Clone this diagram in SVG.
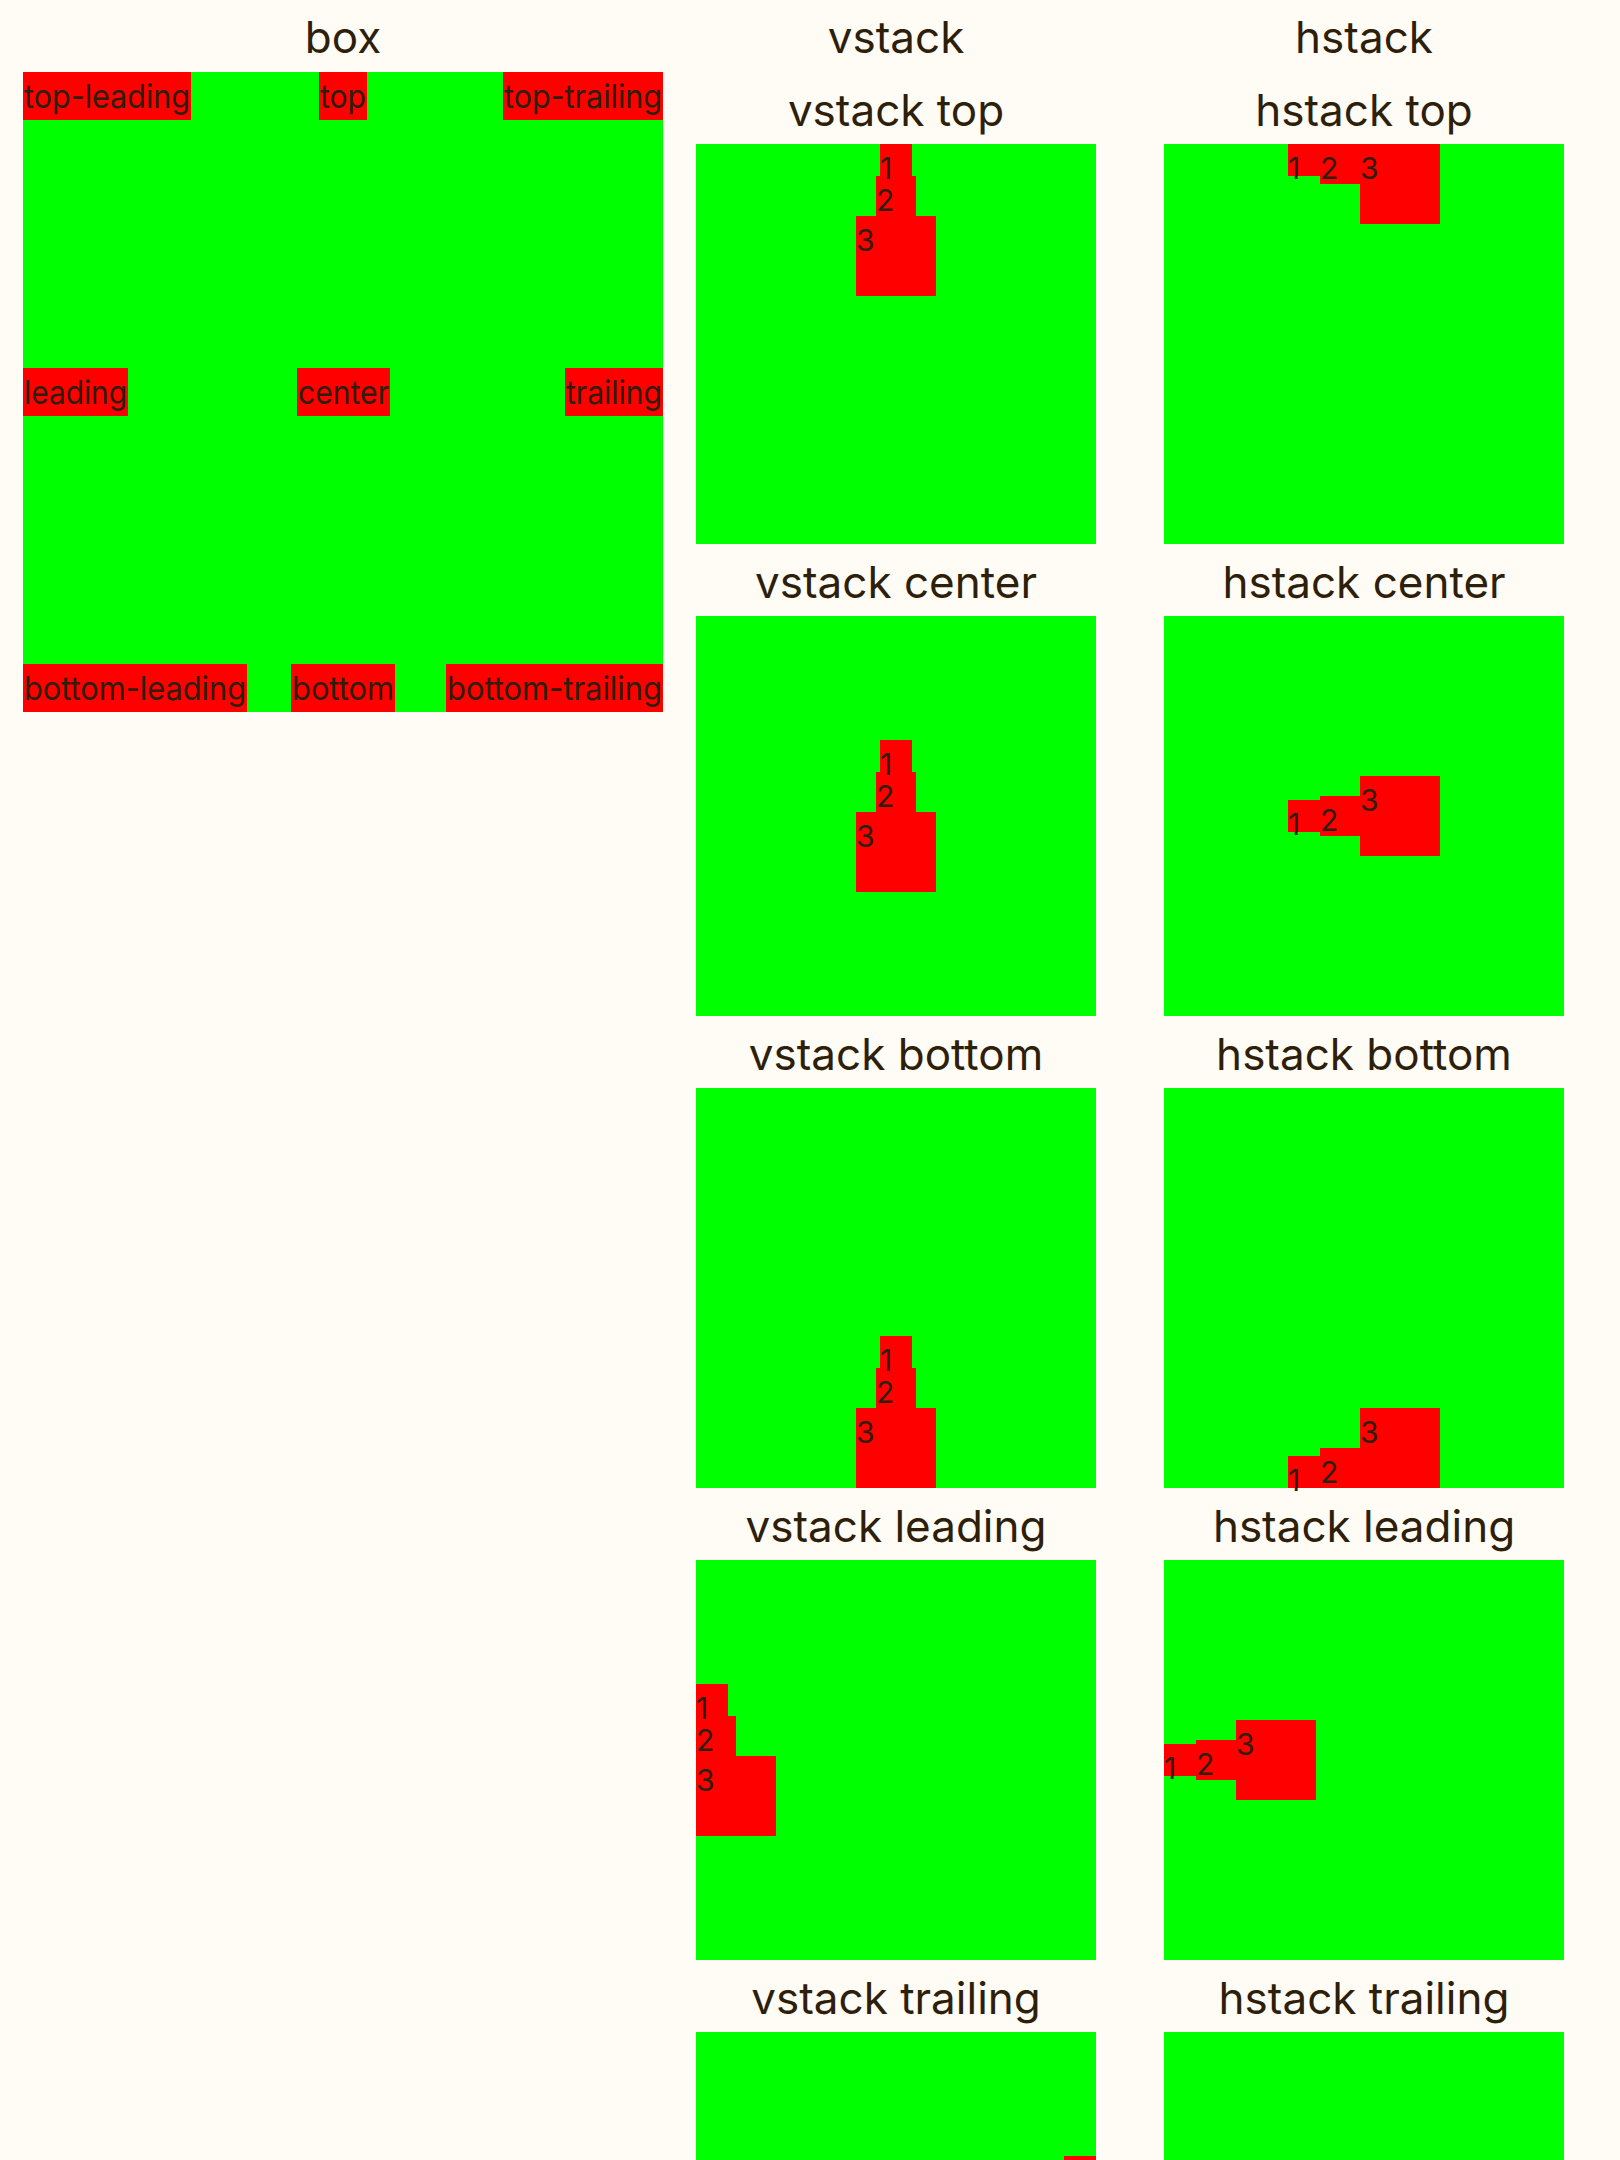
<svg xmlns="http://www.w3.org/2000/svg" width="1620" height="2160" viewBox="0 0 1620 2160">
<style>
.bg{fill:#fffcf5}
.g{fill:#00ff00}
.r{fill:#ff0000}
.t{font-family:Inter,"Noto Sans","Liberation Sans",sans-serif;fill:#2e1f0a}
.h{font-size:44px;text-anchor:middle}
.l{font-size:33px}
.d{font-size:30px}
.m{text-anchor:middle}
.e{text-anchor:end}
</style>
<rect class="bg" x="0" y="0" width="1620" height="2160"/>
<g id="titles">
<text class="t h" x="343" y="53">box</text>
<text class="t h" x="896" y="53">vstack</text>
<text class="t h" x="1364" y="53">hstack</text>
</g>
<g id="box">
<rect class="g" x="23" y="72" width="640" height="640"/>
<rect class="r" x="23" y="72" width="168" height="48"/>
<text class="t l" x="24" y="108" textLength="166" lengthAdjust="spacingAndGlyphs">top-leading</text>
<rect class="r" x="319" y="72" width="48" height="48"/>
<text class="t l m" x="343" y="108" textLength="46" lengthAdjust="spacingAndGlyphs">top</text>
<rect class="r" x="503" y="72" width="160" height="48"/>
<text class="t l e" x="662" y="108" textLength="158" lengthAdjust="spacingAndGlyphs">top-trailing</text>
<rect class="r" x="23" y="368" width="105" height="48"/>
<text class="t l" x="24" y="404" textLength="103" lengthAdjust="spacingAndGlyphs">leading</text>
<rect class="r" x="297" y="368" width="93" height="48"/>
<text class="t l m" x="343.5" y="404" textLength="91" lengthAdjust="spacingAndGlyphs">center</text>
<rect class="r" x="565" y="368" width="98" height="48"/>
<text class="t l e" x="662" y="404" textLength="96" lengthAdjust="spacingAndGlyphs">trailing</text>
<rect class="r" x="23" y="664" width="224" height="48"/>
<text class="t l" x="24" y="700" textLength="222" lengthAdjust="spacingAndGlyphs">bottom-leading</text>
<rect class="r" x="291" y="664" width="104" height="48"/>
<text class="t l m" x="343" y="700" textLength="102" lengthAdjust="spacingAndGlyphs">bottom</text>
<rect class="r" x="446" y="664" width="217" height="48"/>
<text class="t l e" x="662" y="700" textLength="215" lengthAdjust="spacingAndGlyphs">bottom-trailing</text>
</g>
<g id="vstack-top">
<text class="t h" x="896" y="126">vstack top</text>
<rect class="g" x="696" y="144" width="400" height="400"/>
<rect class="r" x="880" y="144" width="32" height="32"/>
<rect class="r" x="876" y="176" width="40" height="40"/>
<rect class="r" x="856" y="216" width="80" height="80"/>
<text class="t d" x="880" y="179">1</text>
<text class="t d" x="876" y="211">2</text>
<text class="t d" x="856" y="251">3</text>
</g>
<g id="hstack-top">
<text class="t h" x="1364" y="126">hstack top</text>
<rect class="g" x="1164" y="144" width="400" height="400"/>
<rect class="r" x="1288" y="144" width="32" height="32"/>
<rect class="r" x="1320" y="144" width="40" height="40"/>
<rect class="r" x="1360" y="144" width="80" height="80"/>
<text class="t d" x="1288" y="179">1</text>
<text class="t d" x="1320" y="179">2</text>
<text class="t d" x="1360" y="179">3</text>
</g>
<g id="vstack-center">
<text class="t h" x="896" y="598">vstack center</text>
<rect class="g" x="696" y="616" width="400" height="400"/>
<rect class="r" x="880" y="740" width="32" height="32"/>
<rect class="r" x="876" y="772" width="40" height="40"/>
<rect class="r" x="856" y="812" width="80" height="80"/>
<text class="t d" x="880" y="775">1</text>
<text class="t d" x="876" y="807">2</text>
<text class="t d" x="856" y="847">3</text>
</g>
<g id="hstack-center">
<text class="t h" x="1364" y="598">hstack center</text>
<rect class="g" x="1164" y="616" width="400" height="400"/>
<rect class="r" x="1288" y="800" width="32" height="32"/>
<rect class="r" x="1320" y="796" width="40" height="40"/>
<rect class="r" x="1360" y="776" width="80" height="80"/>
<text class="t d" x="1288" y="835">1</text>
<text class="t d" x="1320" y="831">2</text>
<text class="t d" x="1360" y="811">3</text>
</g>
<g id="vstack-bottom">
<text class="t h" x="896" y="1070">vstack bottom</text>
<rect class="g" x="696" y="1088" width="400" height="400"/>
<rect class="r" x="880" y="1336" width="32" height="32"/>
<rect class="r" x="876" y="1368" width="40" height="40"/>
<rect class="r" x="856" y="1408" width="80" height="80"/>
<text class="t d" x="880" y="1371">1</text>
<text class="t d" x="876" y="1403">2</text>
<text class="t d" x="856" y="1443">3</text>
</g>
<g id="hstack-bottom">
<text class="t h" x="1364" y="1070">hstack bottom</text>
<rect class="g" x="1164" y="1088" width="400" height="400"/>
<rect class="r" x="1288" y="1456" width="32" height="32"/>
<rect class="r" x="1320" y="1448" width="40" height="40"/>
<rect class="r" x="1360" y="1408" width="80" height="80"/>
<text class="t d" x="1288" y="1491">1</text>
<text class="t d" x="1320" y="1483">2</text>
<text class="t d" x="1360" y="1443">3</text>
</g>
<g id="vstack-leading">
<text class="t h" x="896" y="1542">vstack leading</text>
<rect class="g" x="696" y="1560" width="400" height="400"/>
<rect class="r" x="696" y="1684" width="32" height="32"/>
<rect class="r" x="696" y="1716" width="40" height="40"/>
<rect class="r" x="696" y="1756" width="80" height="80"/>
<text class="t d" x="696" y="1719">1</text>
<text class="t d" x="696" y="1751">2</text>
<text class="t d" x="696" y="1791">3</text>
</g>
<g id="hstack-leading">
<text class="t h" x="1364" y="1542">hstack leading</text>
<rect class="g" x="1164" y="1560" width="400" height="400"/>
<rect class="r" x="1164" y="1744" width="32" height="32"/>
<rect class="r" x="1196" y="1740" width="40" height="40"/>
<rect class="r" x="1236" y="1720" width="80" height="80"/>
<text class="t d" x="1164" y="1779">1</text>
<text class="t d" x="1196" y="1775">2</text>
<text class="t d" x="1236" y="1755">3</text>
</g>
<g id="vstack-trailing">
<text class="t h" x="896" y="2014">vstack trailing</text>
<rect class="g" x="696" y="2032" width="400" height="128"/>
<rect class="r" x="1064" y="2156" width="32" height="4"/>
</g>
<g id="hstack-trailing">
<text class="t h" x="1364" y="2014">hstack trailing</text>
<rect class="g" x="1164" y="2032" width="400" height="128"/>
</g>
</svg>
